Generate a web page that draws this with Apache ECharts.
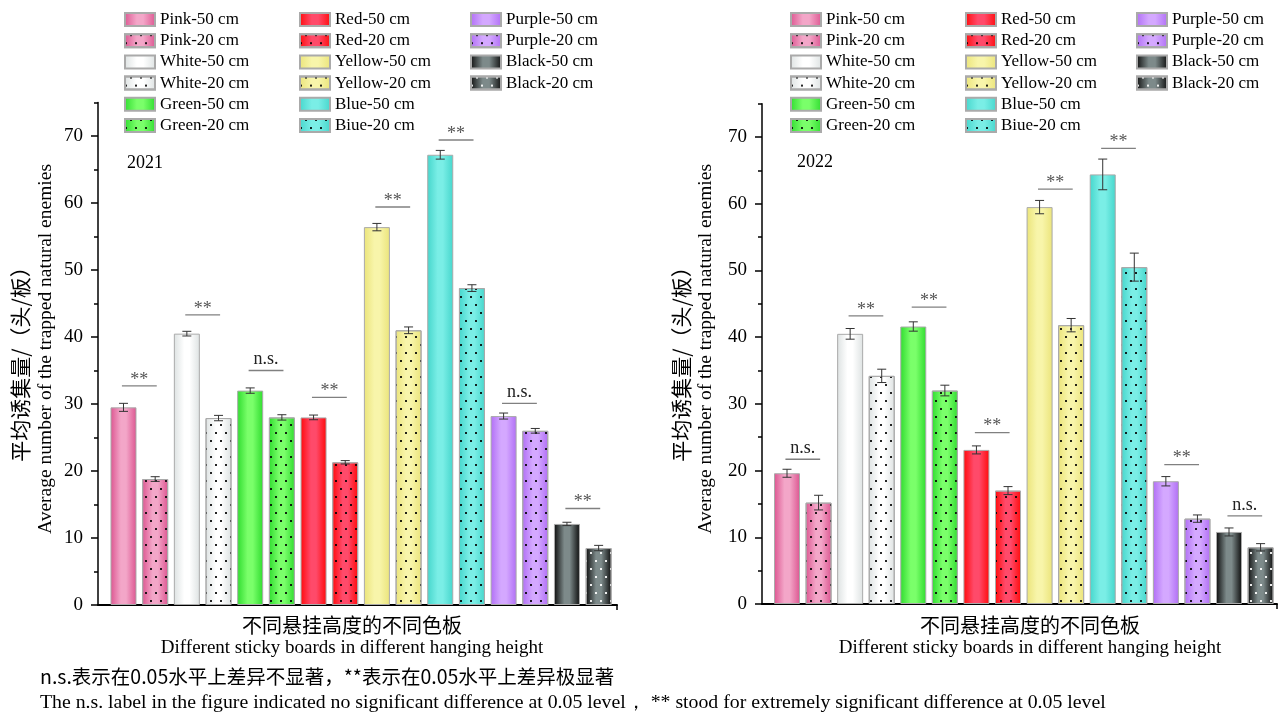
<!DOCTYPE html>
<html><head><meta charset="utf-8">
<script src="https://cdn.jsdelivr.net/npm/echarts@6/dist/echarts.min.js"></script>
<style>html,body{margin:0;padding:0;background:#fff}#c{width:1278px;height:713px}</style>
</head><body><div id="c"></div>
<script>
const names = ['Pink-50 cm','Pink-20 cm','White-50 cm','White-20 cm','Green-50 cm','Green-20 cm','Red-50 cm','Red-20 cm','Yellow-50 cm','Yellow-20 cm','Blue-50 cm','Biue-20 cm','Purple-50 cm','Purple-20 cm','Black-50 cm','Black-20 cm'];
const values2021 = [29.5,18.8,40.5,27.9,32.0,28.0,28.0,21.3,56.4,41.0,67.2,47.3,28.2,26.0,12.1,8.5];
const errors2021 = [0.6,0.35,0.35,0.4,0.4,0.4,0.35,0.25,0.55,0.5,0.65,0.5,0.45,0.35,0.25,0.4];
const values2022 = [19.6,15.2,40.5,34.2,41.6,32.0,23.1,17.0,59.5,41.8,64.4,50.5,18.4,12.8,10.8,8.5];
const errors2022 = [0.6,1.1,0.8,1.0,0.7,0.8,0.6,0.6,1.0,1.0,2.3,2.1,0.7,0.55,0.6,0.55];
const sigLabels2021 = ['**','**','n.s.','**','**','**','n.s.','**'];
const sigHeights2021 = [32.7,43.3,35.0,31.0,59.4,69.4,30.1,14.4];
const sigLabels2022 = ['n.s.','**','**','**','**','**','**','n.s.'];
const sigHeights2022 = [21.7,43.2,44.5,25.7,62.2,68.3,20.9,13.2];
const yTickValues = [0,10,20,30,40,50,60,70];
const yMinorTickValues = [5,15,25,35,45,55,65,75];
const years = ['2021','2022'];

const palette = [
  ['#dc5590','#f3a6c8'],['#dde2e2','#ffffff'],['#2fdc2f','#7aff6a'],['#ff0a0a','#ff4a6a'],
  ['#ebe47a','#f8f5aa'],['#45d6cc','#7aeee6'],['#b06ef5','#d4a8ff'],['#0c0c0c','#7d8a8a']
];
const serif = 'Liberation Serif';

const grids = [
  {left:98, top:102.5, width:519, bottom:108, xmin:-0.805, xmax:15.58},
  {left:762, top:103.7, width:515, bottom:109, xmin:-0.792, xmax:15.52}
];
const legendCols = [[124,299,470],[790,965,1136]];

const chart = echarts.init(document.getElementById('c'));
const series = [];
const xAxes = [], yAxes = [], legends = [];
const allValues = [values2021, values2022];
const allErrors = [errors2021, errors2022];
const allSigL = [sigLabels2021, sigLabels2022];
const allSigH = [sigHeights2021, sigHeights2022];

function grad(c){
  return {type:'linear',x:0,y:0,x2:1,y2:0,colorStops:[
    {offset:0,color:c[0]},{offset:0.4,color:c[1]},{offset:0.6,color:c[1]},{offset:1,color:c[0]}]};
}
function errRender(params, api){
  const x = api.value(0), lo = api.value(1), hi = api.value(2);
  const pl = api.coord([x, lo]), ph = api.coord([x, hi]);
  const cw = 4.5, st = {stroke:'#333', lineWidth:1};
  return {type:'group', children:[
    {type:'line', shape:{x1:pl[0],y1:pl[1],x2:ph[0],y2:ph[1]}, style:st},
    {type:'line', shape:{x1:pl[0]-cw,y1:pl[1],x2:pl[0]+cw,y2:pl[1]}, style:st},
    {type:'line', shape:{x1:ph[0]-cw,y1:ph[1],x2:ph[0]+cw,y2:ph[1]}, style:st}
  ]};
}
function sigRender(labels){
  return function(params, api){
    const c = api.value(0), h = api.value(1);
    const a = api.coord([c-0.55, h]), b = api.coord([c+0.55, h]);
    const lab = labels[params.dataIndex];
    const star = lab === '**';
    return {type:'group', children:[
      {type:'line', shape:{x1:a[0],y1:a[1],x2:b[0],y2:b[1]}, style:{stroke:'#808080', lineWidth:1.3}},
      {type:'text', x:(a[0]+b[0])/2, y: star ? a[1]+3 : a[1]-2,
        style:{text:lab, align:'center', verticalAlign:'bottom',
          font: '18px "Liberation Serif"', fill: star ? '#555' : '#222'}}
    ]};
  };
}

grids.forEach((g, gi) => {
  xAxes.push({type:'value', gridIndex:gi, min:g.xmin, max:g.xmax,
    axisLine:{show:true, onZero:false, lineStyle:{color:'#000', width:2}},
    axisTick:{show:true, customValues:[g.xmax], length:5, lineStyle:{color:'#000', width:1.5}},
    axisLabel:{show:false}, splitLine:{show:false}});
  yAxes.push({type:'value', gridIndex:gi, min:0, max:75, interval:10, position:'left',
    axisLine:{show:true, onZero:false, lineStyle:{color:'#000', width:1.5}},
    axisTick:{show:true, customValues:yTickValues, length:7, lineStyle:{color:'#000', width:1.5}},
    axisLabel:{customValues:yTickValues, margin:15, color:'#000', fontFamily:serif, fontSize:19},
    splitLine:{show:false}});
  yAxes.push({type:'value', gridIndex:gi, min:0, max:75, interval:5, position:'left',
    axisLine:{show:false, onZero:false},
    axisTick:{show:true, customValues:yMinorTickValues, length:4, lineStyle:{color:'#000', width:1.5}},
    axisLabel:{show:false}, splitLine:{show:false}});
  const vals = allValues[gi], errs = allErrors[gi];
  names.forEach((n, i) => {
    const pair = Math.floor(i/2);
    const is20 = i % 2 === 1;
    const itemStyle = {color: grad(palette[pair]), borderColor:'#aaaaaa', borderWidth:1};
    if (is20) {
      itemStyle.decal = {symbol:'rect', symbolSize:1, color: pair === 7 ? 'rgba(255,255,255,0.9)' : 'rgba(0,0,0,0.85)',
        dashArrayX:[[2,8],[0,5,2,3]], dashArrayY:[2,6]};
    }
    series.push({type:'bar', name:n, xAxisIndex:gi, yAxisIndex:gi*2, barWidth:26, barGap:'-100%',
      data:[[i, vals[i]]], itemStyle, emphasis:{disabled:true}, animation:false});
  });
  series.push({type:'custom', xAxisIndex:gi, yAxisIndex:gi*2, renderItem:errRender, z:5, animation:false,
    data: vals.map((v,i)=>[i, v-errs[i], v+errs[i]]), silent:true});
  series.push({type:'custom', xAxisIndex:gi, yAxisIndex:gi*2, renderItem:sigRender(allSigL[gi]), z:5, animation:false,
    data: allSigH[gi].map((h,k)=>[2*k+0.5, h]), silent:true});
  legendCols[gi].forEach((lx, ci) => {
    legends.push({data: names.slice(ci*6, ci*6+6), left:lx, top:11, orient:'vertical', itemGap:4.2,
      itemWidth:30, itemHeight:13, icon:'rect', selectedMode:false, padding:0,
      textStyle:{fontFamily:serif, fontSize:17, color:'#000'}});
  });
});

const txt = (x, y, text, font, opts={}) => Object.assign({type:'text', x, y, style:Object.assign({text, font, fill:'#000', align:'center', verticalAlign:'middle'}, opts.style||{})}, opts.el||{});
const graphics = [
  txt(20, 359, '平均诱集量/（头/板）', '21px "Noto Sans CJK SC"', {el:{rotation:Math.PI/2}}),
  txt(46, 349, 'Average number of the trapped natural enemies', '19.5px "Liberation Serif"', {el:{rotation:Math.PI/2}}),
  txt(681, 359, '平均诱集量/（头/板）', '21px "Noto Sans CJK SC"', {el:{rotation:Math.PI/2}}),
  txt(706, 349, 'Average number of the trapped natural enemies', '19.5px "Liberation Serif"', {el:{rotation:Math.PI/2}}),
  txt(352, 625, '不同悬挂高度的不同色板', '20px "Noto Sans CJK SC"'),
  txt(352, 648, 'Different sticky boards in different hanging height', '19px "Liberation Serif"'),
  txt(1030, 625, '不同悬挂高度的不同色板', '20px "Noto Sans CJK SC"'),
  txt(1030, 648, 'Different sticky boards in different hanging height', '19px "Liberation Serif"'),
  txt(127, 163, years[0], '18px "Liberation Serif"', {style:{align:'left'}}),
  txt(797, 162, years[1], '18px "Liberation Serif"', {style:{align:'left'}}),
  txt(40, 677, 'n.s.表示在0.05水平上差异不显著，**表示在0.05水平上差异极显著', '19.5px "Noto Sans CJK SC"', {style:{align:'left'}}),
  txt(40, 703, 'The n.s. label in the figure indicated no significant difference at 0.05 level， ** stood for extremely significant difference at 0.05 level', '19.8px "Liberation Serif"', {style:{align:'left'}})
];

chart.setOption({
  animation:false,
  grid: grids.map(g => ({left:g.left, top:g.top, width:g.width, bottom:g.bottom, containLabel:false})),
  xAxis: xAxes, yAxis: yAxes, legend: legends, series, graphic: graphics
});
</script></body></html>
